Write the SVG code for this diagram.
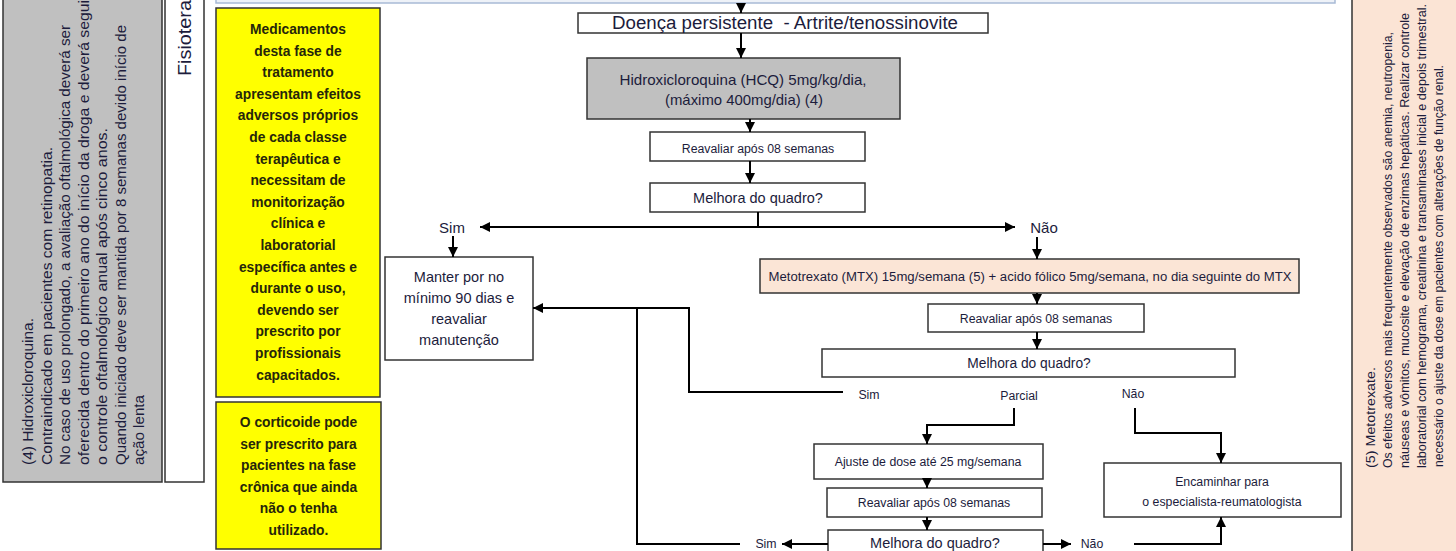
<svg xmlns="http://www.w3.org/2000/svg" width="1456" height="551" viewBox="0 0 1456 551">
<style>
text{font-family:"Liberation Sans",Arial,sans-serif;fill:#1c1c3c}
.box{fill:#fff;stroke:#333;stroke-width:1.5}
.gray{fill:#c0c0c0;stroke:#333;stroke-width:1.5}
.peach{fill:#fbe5d6;stroke:#333;stroke-width:1.5}
.yel{fill:#ffff00;stroke:#333;stroke-width:1.5}
.yt{font-size:13.8px;font-weight:bold;fill:#26260a;text-anchor:middle}
.c{text-anchor:middle}
.f14{font-size:14.5px}
.f12{font-size:12.3px}
.side{font-size:14.5px;fill:#1a1a1a}
.rside{font-size:12.5px;fill:#2a2a2a}
.ln{fill:none;stroke:#000;stroke-width:2}
</style>
<defs>
<marker id="ah" markerUnits="userSpaceOnUse" markerWidth="11" markerHeight="11" refX="10" refY="5" orient="auto">
<path d="M0,0 L10,5 L0,10 z" fill="#000"/>
</marker>
</defs>
<rect width="1456" height="551" fill="#fff"/>

<g id="top-strip"><rect x="216" y="-10" width="1119" height="13" fill="#eef2f8" stroke="#a8bad6" stroke-width="1.5"/></g>

<g id="note-hcq">
<rect class="gray" x="3" y="-5" width="159" height="487"/>
<g transform="rotate(-90)" class="side">
<text x="-465" y="33" textLength="147" lengthAdjust="spacingAndGlyphs">(4) Hidroxicloroquina.</text>
<text x="-465" y="51.5" textLength="318" lengthAdjust="spacingAndGlyphs">Contraindicado em pacientes com retinopatia.</text>
<text x="-465" y="70" textLength="440" lengthAdjust="spacingAndGlyphs">No caso de uso prolongado, a avaliação oftalmológica deverá ser</text>
<text x="-465" y="88.5" textLength="465" lengthAdjust="spacingAndGlyphs">oferecida dentro do primeiro ano do início da droga e deverá segui</text>
<text x="-465" y="107" textLength="337" lengthAdjust="spacingAndGlyphs">o controle oftalmológico anual após cinco anos.</text>
<text x="-465" y="125.5" textLength="440" lengthAdjust="spacingAndGlyphs">Quando iniciado deve ser mantida por 8 semanas devido início de</text>
<text x="-465" y="144" textLength="70" lengthAdjust="spacingAndGlyphs">ação lenta</text>
</g>
</g>

<g id="fisio">
<rect x="165" y="-5" width="39" height="487" fill="#fff" stroke="#333" stroke-width="1.5"/>
<text transform="rotate(-90)" x="-76" y="191" font-size="18" fill="#222" textLength="76" lengthAdjust="spacingAndGlyphs">Fisiotera</text>
</g>

<g id="note-meds">
<rect class="yel" x="216" y="8" width="164" height="389"/>
<text class="yt" x="298" y="34">Medicamentos</text>
<text class="yt" x="298" y="55.6">desta fase de</text>
<text class="yt" x="298" y="77.2">tratamento</text>
<text class="yt" x="298" y="98.8">apresentam efeitos</text>
<text class="yt" x="298" y="120.4">adversos próprios</text>
<text class="yt" x="298" y="142">de cada classe</text>
<text class="yt" x="298" y="163.6">terapêutica e</text>
<text class="yt" x="298" y="185.2">necessitam de</text>
<text class="yt" x="298" y="206.8">monitorização</text>
<text class="yt" x="298" y="228.4">clínica e</text>
<text class="yt" x="298" y="250">laboratorial</text>
<text class="yt" x="298" y="271.6">específica antes e</text>
<text class="yt" x="298" y="293.2">durante o uso,</text>
<text class="yt" x="298" y="314.8">devendo ser</text>
<text class="yt" x="298" y="336.4">prescrito por</text>
<text class="yt" x="298" y="358">profissionais</text>
<text class="yt" x="298" y="379.6">capacitados.</text>
</g>

<g id="note-cort">
<rect class="yel" x="216" y="402" width="165" height="147"/>
<text class="yt" x="298.5" y="427">O corticoide pode</text>
<text class="yt" x="298.5" y="448.6">ser prescrito para</text>
<text class="yt" x="298.5" y="470.2">pacientes na fase</text>
<text class="yt" x="298.5" y="491.8">crônica que ainda</text>
<text class="yt" x="298.5" y="513.4">não o tenha</text>
<text class="yt" x="298.5" y="535">utilizado.</text>
</g>

<g id="note-mtx">
<rect x="1352" y="-5" width="110" height="565" fill="#fbe4d5" stroke="#333" stroke-width="1.5"/>
<g transform="rotate(-90)" class="rside">
<text x="-468" y="1374.5" textLength="101" lengthAdjust="spacingAndGlyphs">(5) Metotrexate.</text>
<text x="-468" y="1391.5" textLength="436" lengthAdjust="spacingAndGlyphs">Os efeitos adversos mais frequentemente observados são anemia, neutropenia,</text>
<text x="-468" y="1409" textLength="455" lengthAdjust="spacingAndGlyphs">náuseas e vômitos, mucosite e elevação de enzimas hepáticas. Realizar controle</text>
<text x="-468" y="1426" textLength="464" lengthAdjust="spacingAndGlyphs">laboratorial com hemograma, creatinina e transaminases inicial e depois trimestral.</text>
<text x="-467" y="1442.5" textLength="402" lengthAdjust="spacingAndGlyphs">necessário o ajuste da dose em pacientes com alterações de função renal.</text>
</g>
</g>

<g id="doenca">
<rect class="box" x="578" y="13" width="410" height="20"/>
<text class="c" x="785" y="29" font-size="18" textLength="346" lengthAdjust="spacingAndGlyphs" style="white-space:pre">Doença persistente  - Artrite/tenossinovite</text>
</g>

<g id="hcq">
<rect class="gray" x="587" y="58" width="313" height="61"/>
<text class="c f14" x="743" y="85" textLength="247" lengthAdjust="spacingAndGlyphs">Hidroxicloroquina (HCQ) 5mg/kg/dia,</text>
<text class="c f14" x="744" y="105" textLength="158" lengthAdjust="spacingAndGlyphs">(máximo 400mg/dia) (4)</text>
</g>

<g id="reav1">
<rect class="box" x="650" y="132" width="215" height="29"/>
<text class="c f12" x="758" y="152.5">Reavaliar após 08 semanas</text>
</g>

<g id="melhora1">
<rect class="box" x="650" y="183" width="215" height="29"/>
<text class="c f14" x="758" y="203">Melhora do quadro?</text>
</g>

<g id="lbl-sim1"><text class="c" x="452" y="233" font-size="15">Sim</text></g>
<g id="lbl-nao1"><text class="c" x="1044" y="233" font-size="15">Não</text></g>

<g id="manter">
<rect class="box" x="385" y="257" width="148" height="103"/>
<text class="c f14" x="459" y="282">Manter por no</text>
<text class="c f14" x="459" y="303">mínimo 90 dias e</text>
<text class="c f14" x="459" y="324">reavaliar</text>
<text class="c f14" x="459" y="345">manutenção</text>
</g>

<g id="mtx">
<rect class="peach" x="760" y="259" width="539" height="34"/>
<text class="c" x="1030" y="281" font-size="12.5" textLength="523" lengthAdjust="spacingAndGlyphs">Metotrexato (MTX) 15mg/semana (5) + acido fólico 5mg/semana, no dia seguinte do MTX</text>
</g>

<g id="reav2">
<rect class="box" x="928" y="304" width="216" height="28"/>
<text class="c f12" x="1036" y="322.5">Reavaliar após 08 semanas</text>
</g>

<g id="melhora2">
<rect class="box" x="822" y="349" width="413" height="28"/>
<text class="c" x="1029" y="368" font-size="13.8">Melhora do quadro?</text>
</g>

<g id="lbl-row2">
<text class="c f12" x="869" y="399">Sim</text>
<text class="c f12" x="1019" y="400">Parcial</text>
<text class="c f12" x="1133" y="398">Não</text>
</g>

<g id="ajuste">
<rect class="box" x="814" y="444" width="229" height="35"/>
<text class="c f12" x="928" y="466">Ajuste de dose até 25 mg/semana</text>
</g>

<g id="reav3">
<rect class="box" x="827" y="488" width="215" height="29"/>
<text class="c f12" x="934" y="507">Reavaliar após 08 semanas</text>
</g>

<g id="melhora3">
<rect class="box" x="828" y="530" width="215" height="30"/>
<text class="c f14" x="935" y="548">Melhora do quadro?</text>
</g>

<g id="encaminhar">
<rect class="box" x="1104" y="463" width="237" height="54"/>
<text class="c f12" x="1222" y="486">Encaminhar para</text>
<text class="c f12" x="1222" y="506">o especialista-reumatologista</text>
</g>

<g id="lbl-row3">
<text class="c f12" x="766" y="548">Sim</text>
<text class="c f12" x="1092" y="548">Não</text>
</g>

<g id="connectors">
<path class="ln" d="M741,3 V13" marker-end="url(#ah)"/>
<path class="ln" d="M741,33 V58" marker-end="url(#ah)"/>
<path class="ln" d="M750,119 V132" marker-end="url(#ah)"/>
<path class="ln" d="M750,161 V183" marker-end="url(#ah)"/>
<path class="ln" d="M758,212 V227"/>
<path class="ln" d="M758,227 H480" marker-end="url(#ah)"/>
<path class="ln" d="M758,227 H1015" marker-end="url(#ah)"/>
<path class="ln" d="M453,236 V257" marker-end="url(#ah)"/>
<path class="ln" d="M1037,237 V259" marker-end="url(#ah)"/>
<path class="ln" d="M1037,293 V304" marker-end="url(#ah)"/>
<path class="ln" d="M1037,332 V349" marker-end="url(#ah)"/>
<path class="ln" d="M843,392 H689 V308 H533" marker-end="url(#ah)"/>
<path class="ln" d="M740,544 H637 V308"/>
<path class="ln" d="M1014,408 V425 H927 V444" marker-end="url(#ah)"/>
<path class="ln" d="M927,479 V488" marker-end="url(#ah)"/>
<path class="ln" d="M927,517 V530" marker-end="url(#ah)"/>
<path class="ln" d="M1135,408 V433 H1221 V463" marker-end="url(#ah)"/>
<path class="ln" d="M828,544 H782" marker-end="url(#ah)"/>
<path class="ln" d="M1043,544 H1071" marker-end="url(#ah)"/>
<path class="ln" d="M1134,544 H1221 V517" marker-end="url(#ah)"/>
</g>
</svg>
